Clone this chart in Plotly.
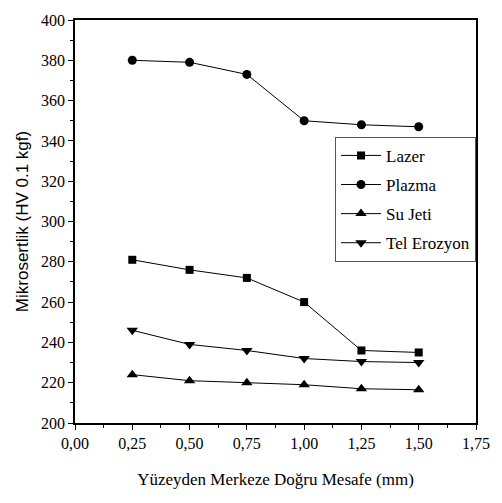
import plotly.graph_objects as go

# Distance from surface towards the core (mm)
mesafe = [0.25, 0.50, 0.75, 1.00, 1.25, 1.50]

# Microhardness profiles (HV 0.1 kgf) for each cutting method
lazer = [281, 276, 272, 260, 236, 235]
plazma = [380, 379, 373, 350, 348, 347]
su_jeti = [224, 221, 220, 219, 217, 216.5]
tel_erozyon = [246, 239, 236, 232, 230.5, 230]

series = [
    ("Lazer", lazer, "square", 8),
    ("Plazma", plazma, "circle", 9),
    ("Su Jeti", su_jeti, "triangle-up", 10),
    ("Tel Erozyon", tel_erozyon, "triangle-down", 10),
]

serif = "Liberation Serif"
sans = "Liberation Sans"

fig = go.Figure()
for i, (name, vals, sym, size) in enumerate(series):
    fig.add_trace(go.Scatter(
        x=mesafe, y=vals, name=name, mode="lines+markers",
        line=dict(color="black", width=1),
        marker=dict(symbol=sym, size=size, color="black"),
        legendgroup=f"g{i}",
    ))

axis_common = dict(
    showline=True, linecolor="black", linewidth=1.5,
    showgrid=False, zeroline=False,
    ticks="outside", tickcolor="black", ticklen=5, tickwidth=1,
    tickfont=dict(family=serif, size=16, color="black"),
)

fig.update_xaxes(
    range=[0, 1.75], dtick=0.25, tick0=0, tickformat=".2f",
    mirror=True,
    minor=dict(dtick=0.125, ticks="outside", ticklen=3, tickcolor="black"),
    title=dict(text="Yüzeyden Merkeze Doğru Mesafe (mm)",
               font=dict(family=serif, size=17, color="black"), standoff=22),
    **axis_common,
)
fig.update_yaxes(
    range=[200, 400], dtick=20, tick0=200,
    mirror=True,
    minor=dict(dtick=10, ticks="outside", ticklen=3, tickcolor="black"),
    title=dict(text="Mikrosertlik (HV 0.1 kgf)",
               font=dict(family=sans, size=17, color="black"), standoff=8),
    **axis_common,
)

fig.update_layout(
    width=502, height=503,
    margin=dict(l=75, r=22, t=12, b=80),
    paper_bgcolor="white", plot_bgcolor="white",
    separators=",.",
    legend=dict(
        x=1.0, y=0.71, xanchor="right", yanchor="top",
        bordercolor="#555555", borderwidth=1, bgcolor="white",
        font=dict(family=serif, size=17, color="black"),
        tracegroupgap=4, itemwidth=40,
    ),
)

fig.write_html("out.html")
